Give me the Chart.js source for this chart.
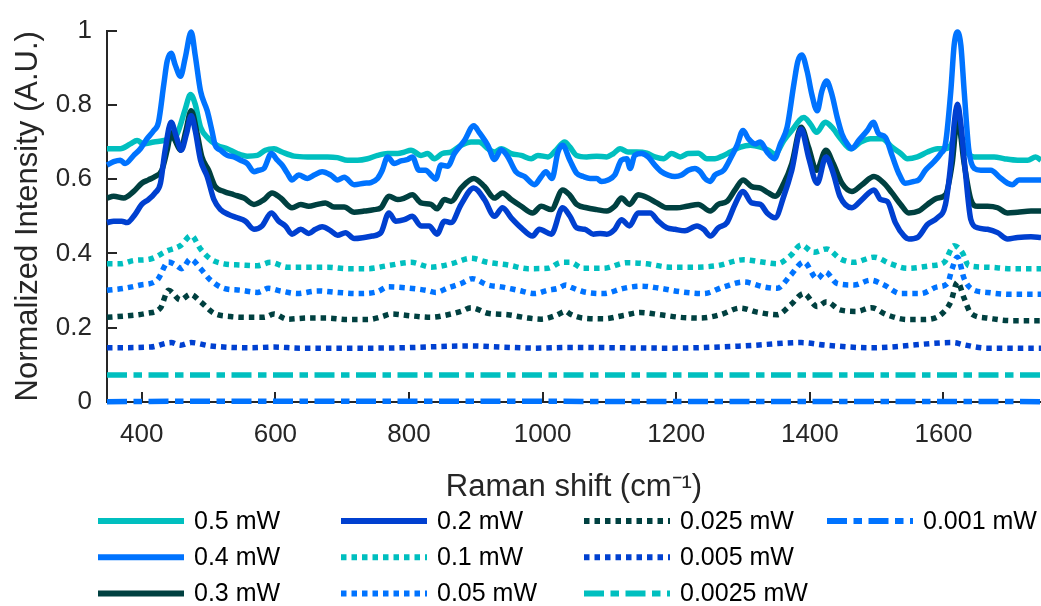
<!DOCTYPE html>
<html>
<head>
<meta charset="utf-8">
<title>Raman spectra vs laser power</title>
<script src="https://cdn.jsdelivr.net/npm/chart.js@4.4.1/dist/chart.umd.min.js"></script>
<style>
    html, body { margin: 0; padding: 0; background: #fff; }
    #wrap { width: 1041px; height: 606px; }
</style>
</head>
<body>
<div id="wrap"><canvas id="ramanChart" width="1041" height="606"></canvas></div>
<script>
// Laser powers (legend labels), in plotting order
const powers = ['0.5 mW', '0.4 mW', '0.3 mW', '0.2 mW', '0.1 mW', '0.05 mW', '0.025 mW', '0.005 mW', '0.0025 mW', '0.001 mW'];

// Axis ticks
const xTicks = [400, 600, 800, 1000, 1200, 1400, 1600];
const yTicks = [0, 0.2, 0.4, 0.6, 0.8, 1];

// Spectra: [Raman shift (cm-1), normalized intensity]
const mw05 = [[348,.682],[358,.682],[368,.682],[383,.695],[393,.704],[403,.695],[418,.700],[433,.704],[443,.709],[453,.722],[465,.788],[473,.828],[480,.802],[488,.740],[500,.709],[513,.691],[528,.682],[543,.669],[558,.662],[573,.664],[585,.678],[598,.682],[610,.673],[628,.662],[648,.660],[678,.660],[693,.658],[708,.651],[723,.651],[738,.655],[753,.664],[768,.669],[783,.669],[793,.673],[803,.678],[818,.664],[828,.669],[838,.655],[850,.669],[863,.673],[878,.691],[893,.700],[905,.700],[918,.682],[928,.673],[938,.682],[953,.669],[968,.664],[983,.655],[993,.664],[1008,.660],[1020,.678],[1033,.700],[1041,.686],[1051,.664],[1066,.660],[1081,.662],[1096,.660],[1106,.669],[1116,.682],[1128,.673],[1141,.673],[1156,.670],[1168,.660],[1181,.655],[1193,.669],[1206,.660],[1218,.669],[1233,.670],[1246,.655],[1258,.655],[1271,.664],[1281,.673],[1296,.686],[1311,.691],[1326,.686],[1338,.678],[1348,.668],[1361,.704],[1373,.731],[1391,.766],[1401,.748],[1410,.726],[1423,.753],[1433,.740],[1446,.709],[1461,.682],[1476,.700],[1491,.709],[1508,.709],[1523,.686],[1536,.669],[1546,.655],[1561,.660],[1576,.673],[1591,.682],[1601,.682],[1611,.691],[1621,.735],[1633,.678],[1646,.660],[1661,.660],[1676,.660],[1691,.655],[1711,.651],[1726,.651],[1738,.660],[1746,.651]];
const mw04 = [[348,.638],[358,.647],[368,.651],[375,.642],[388,.664],[398,.682],[408,.709],[418,.731],[425,.753],[433,.855],[438,.917],[444,.939],[450,.908],[458,.877],[465,.926],[474,.996],[480,.934],[488,.837],[498,.784],[505,.731],[510,.691],[518,.678],[528,.664],[538,.660],[548,.651],[558,.642],[568,.620],[575,.624],[583,.629],[594,.669],[603,.651],[610,.638],[618,.616],[625,.598],[635,.611],[648,.602],[658,.611],[670,.620],[683,.611],[693,.598],[703,.605],[718,.585],[733,.589],[743,.591],[753,.602],[760,.624],[768,.660],[778,.642],[788,.649],[798,.653],[805,.660],[815,.624],[825,.624],[833,.611],[840,.600],[848,.638],[858,.635],[868,.669],[883,.704],[897,.744],[905,.726],[918,.691],[928,.653],[938,.679],[948,.660],[960,.620],[973,.607],[988,.585],[998,.607],[1005,.620],[1014,.602],[1023,.673],[1030,.691],[1041,.650],[1051,.616],[1061,.607],[1071,.602],[1081,.602],[1088,.594],[1098,.598],[1108,.611],[1118,.651],[1126,.655],[1131,.629],[1138,.664],[1148,.669],[1158,.660],[1168,.638],[1178,.620],[1188,.611],[1198,.607],[1208,.611],[1218,.624],[1228,.629],[1236,.620],[1243,.602],[1251,.594],[1258,.611],[1271,.624],[1281,.655],[1291,.691],[1300,.731],[1308,.709],[1318,.695],[1326,.700],[1336,.673],[1347,.655],[1356,.695],[1366,.740],[1376,.855],[1382,.917],[1388,.934],[1396,.890],[1403,.828],[1411,.784],[1418,.837],[1425,.864],[1433,.828],[1441,.766],[1448,.722],[1456,.695],[1463,.682],[1473,.704],[1486,.731],[1495,.753],[1503,.722],[1513,.713],[1523,.664],[1533,.616],[1543,.589],[1556,.594],[1563,.598],[1573,.624],[1583,.642],[1596,.669],[1603,.695],[1611,.837],[1616,.961],[1621,.996],[1626,.961],[1631,.837],[1638,.678],[1646,.629],[1656,.624],[1671,.624],[1683,.607],[1696,.589],[1703,.585],[1713,.598],[1731,.598],[1746,.598]];
const mw03 = [[348,.549],[358,.554],[373,.549],[388,.567],[400,.589],[410,.598],[420,.607],[430,.624],[438,.678],[444,.725],[451,.700],[458,.678],[466,.730],[474,.784],[483,.722],[490,.660],[500,.624],[510,.580],[523,.567],[538,.558],[553,.549],[568,.532],[583,.545],[595,.563],[608,.549],[625,.523],[638,.532],[650,.527],[663,.532],[675,.536],[688,.525],[703,.525],[718,.511],[733,.514],[748,.518],[758,.523],[770,.554],[783,.545],[793,.549],[805,.558],[818,.536],[833,.532],[842,.520],[853,.545],[863,.540],[878,.576],[897,.602],[913,.580],[928,.549],[940,.563],[953,.545],[968,.527],[985,.509],[998,.527],[1013,.518],[1030,.571],[1041,.556],[1051,.532],[1066,.523],[1081,.518],[1096,.514],[1108,.527],[1118,.549],[1130,.532],[1143,.558],[1158,.549],[1171,.536],[1186,.523],[1201,.523],[1216,.527],[1233,.532],[1251,.514],[1263,.532],[1276,.540],[1288,.571],[1300,.598],[1313,.580],[1326,.576],[1338,.563],[1348,.554],[1361,.589],[1373,.642],[1387,.740],[1398,.686],[1410,.624],[1424,.678],[1435,.642],[1448,.589],[1463,.567],[1478,.585],[1496,.607],[1511,.589],[1523,.563],[1536,.532],[1548,.509],[1563,.514],[1576,.532],[1591,.549],[1603,.558],[1613,.642],[1621,.765],[1631,.642],[1641,.545],[1651,.527],[1666,.527],[1681,.523],[1696,.509],[1711,.511],[1731,.514],[1746,.514]];
const mw02 = [[348,.483],[358,.487],[370,.487],[378,.483],[390,.505],[400,.532],[410,.545],[420,.563],[428,.589],[435,.678],[444,.753],[452,.713],[459,.678],[467,.722],[474,.771],[480,.731],[488,.651],[498,.607],[508,.545],[518,.518],[530,.505],[543,.496],[555,.487],[568,.465],[580,.474],[594,.509],[605,.487],[615,.474],[625,.452],[638,.465],[650,.454],[660,.465],[670,.472],[683,.461],[693,.449],[705,.456],[718,.440],[733,.443],[745,.447],[758,.456],[770,.509],[780,.487],[793,.491],[805,.500],[818,.474],[830,.474],[842,.452],[853,.487],[863,.483],[878,.532],[897,.576],[913,.545],[928,.500],[940,.523],[953,.496],[968,.469],[985,.447],[995,.465],[1013,.452],[1030,.523],[1041,.500],[1051,.469],[1063,.465],[1076,.452],[1086,.454],[1096,.452],[1108,.465],[1118,.491],[1130,.474],[1143,.509],[1161,.509],[1173,.487],[1186,.469],[1198,.465],[1213,.461],[1231,.474],[1241,.465],[1251,.447],[1263,.469],[1276,.483],[1288,.532],[1300,.567],[1313,.536],[1326,.532],[1336,.509],[1348,.496],[1361,.554],[1373,.624],[1387,.735],[1398,.660],[1411,.589],[1424,.660],[1435,.616],[1445,.554],[1463,.523],[1478,.545],[1496,.571],[1506,.545],[1516,.540],[1528,.483],[1541,.447],[1548,.439],[1561,.443],[1576,.478],[1591,.496],[1603,.532],[1611,.642],[1616,.748],[1621,.802],[1626,.748],[1633,.616],[1641,.491],[1651,.469],[1666,.465],[1681,.456],[1696,.439],[1711,.443],[1731,.445],[1746,.443]];
const mw01 = [[348,.372],[368,.372],[388,.381],[413,.385],[438,.407],[458,.421],[474,.448],[488,.412],[503,.385],[523,.372],[548,.369],[573,.367],[593,.376],[618,.363],[648,.363],[678,.363],[708,.359],[738,.359],[768,.367],[803,.376],[833,.363],[863,.372],[893,.387],[918,.376],[948,.369],[978,.359],[1008,.360],[1028,.376],[1041,.376],[1061,.360],[1091,.360],[1126,.375],[1156,.372],[1191,.363],[1226,.363],[1261,.367],[1301,.383],[1331,.376],[1351,.372],[1371,.394],[1387,.423],[1406,.403],[1425,.412],[1446,.385],[1466,.376],[1496,.390],[1521,.372],[1546,.360],[1581,.367],[1601,.376],[1616,.421],[1628,.403],[1638,.367],[1666,.363],[1701,.359],[1746,.359]];
const mw005 = [[348,.301],[373,.306],[398,.315],[423,.328],[440,.377],[450,.370],[460,.359],[473,.385],[488,.359],[503,.328],[523,.306],[548,.301],[573,.295],[590,.306],[608,.299],[633,.292],[663,.299],[693,.295],[723,.292],[753,.297],[768,.310],[798,.307],[825,.301],[840,.295],[858,.307],[878,.319],[895,.332],[918,.315],[938,.310],[963,.301],[988,.292],[1008,.301],[1023,.306],[1035,.315],[1041,.310],[1061,.297],[1091,.292],[1121,.306],[1148,.312],[1176,.306],[1206,.297],[1241,.292],[1271,.310],[1301,.323],[1331,.310],[1351,.306],[1371,.341],[1391,.377],[1411,.332],[1423,.350],[1441,.319],[1466,.315],[1491,.328],[1511,.315],[1536,.292],[1566,.292],[1591,.310],[1606,.319],[1613,.359],[1621,.390],[1631,.332],[1641,.306],[1666,.295],[1701,.290],[1746,.290]];
const mw0025 = [[348,.228],[378,.232],[408,.239],[428,.253],[440,.301],[458,.275],[473,.290],[488,.270],[508,.239],[533,.230],[558,.228],[583,.228],[598,.237],[618,.223],[648,.226],[678,.226],[708,.222],[738,.222],[760,.230],[773,.237],[803,.232],[833,.228],[858,.235],[878,.244],[893,.254],[918,.239],[948,.235],[978,.226],[998,.223],[1020,.233],[1035,.244],[1041,.237],[1061,.226],[1091,.224],[1121,.233],[1146,.241],[1176,.235],[1206,.228],[1236,.226],[1266,.235],[1296,.253],[1321,.242],[1351,.235],[1371,.261],[1391,.292],[1411,.257],[1425,.270],[1445,.248],[1470,.244],[1492,.254],[1515,.235],[1546,.222],[1571,.222],[1596,.235],[1611,.270],[1621,.323],[1631,.279],[1641,.239],[1666,.226],[1701,.219],[1746,.219]];
const mw0005 = [[348,.146],[413,.148],[444,.160],[458,.153],[474,.160],[503,.151],[563,.146],[598,.148],[638,.145],[738,.145],[788,.146],[893,.151],[938,.148],[988,.145],[1041,.147],[1191,.145],[1301,.151],[1387,.160],[1424,.153],[1491,.146],[1616,.160],[1628,.155],[1666,.145],[1746,.145]];
const mw00025 = [[348,.073],[1050,.073],[1746,.073]];
const mw0001 = [[348,.001],[474,.002],[1746,.001]];

const spectra = [mw05, mw04, mw03, mw02, mw01, mw005, mw0025, mw0005, mw00025, mw0001];

const colors = ['#00BFBF', '#0073FF', '#004040', '#0040D0', '#00BFBF', '#0073FF', '#004040', '#0040D0', '#00BFBF', '#0073FF'];
const dotted = [5.5, 5];
const dashed = [20, 6.5, 8.5, 6.5];
const dashes = [[], [], [], [], dotted, dotted, dotted, dotted, dashed, dashed];

const axisColor = '#262626';
const fontFamily = "'Liberation Sans', Arial, sans-serif";

// MATLAB-style ticks pointing into the plot
const inwardTicks = {
    id: 'inwardTicks',
    beforeDatasetsDraw(chart) {
        const { ctx, chartArea, scales } = chart;
        ctx.save();
        ctx.strokeStyle = axisColor;
        ctx.lineWidth = 2;
        ctx.beginPath();
        xTicks.forEach(v => {
            const px = Math.round(scales.x.getPixelForValue(v));
            ctx.moveTo(px, chartArea.bottom);
            ctx.lineTo(px, chartArea.bottom - 10);
        });
        yTicks.forEach(v => {
            const py = Math.round(scales.y.getPixelForValue(v));
            ctx.moveTo(chartArea.left, py);
            ctx.lineTo(chartArea.left + 10, py);
        });
        ctx.stroke();
        ctx.restore();
    }
};

// Legend below the axes, 4 columns filled top to bottom
const columnLegend = {
    id: 'columnLegend',
    afterDraw(chart) {
        const ctx = chart.ctx;
        ctx.save();
        ctx.font = '25px ' + fontFamily;
        ctx.textBaseline = 'middle';
        ctx.fillStyle = '#000';
        chart.data.datasets.forEach((ds, i) => {
            const col = Math.floor(i / 3);
            const row = i % 3;
            const x0 = 98 + col * 243;
            const y0 = 521 + row * 36.2;
            ctx.beginPath();
            ctx.strokeStyle = ds.borderColor;
            ctx.lineWidth = 6;
            ctx.setLineDash(ds.borderDash);
            ctx.moveTo(x0, y0);
            ctx.lineTo(x0 + 86, y0);
            ctx.stroke();
            ctx.setLineDash([]);
            ctx.fillText(ds.label, x0 + 96, y0 + 1);
        });
        ctx.restore();
    }
};

const datasets = powers.map((label, i) => ({
    label: label,
    data: spectra[i].map(p => ({ x: p[0], y: p[1] })),
    borderColor: colors[i],
    borderDash: dashes[i],
    borderWidth: 5.5,
    borderJoinStyle: 'round',
    cubicInterpolationMode: 'monotone',
    pointRadius: 0,
    fill: false,
    clip: false,
    order: powers.length - i
}));

const ctx = document.getElementById('ramanChart').getContext('2d');
const ramanChart = new Chart(ctx, {
    type: 'line',
    data: { datasets: datasets },
    plugins: [inwardTicks, columnLegend],
    options: {
        responsive: false,
        animation: false,
        devicePixelRatio: 1,
        layout: { padding: { top: 25, right: 0, left: 0, bottom: 0 } },
        plugins: {
            legend: { display: false },
            tooltip: { enabled: false }
        },
        scales: {
            x: {
                type: 'linear',
                min: 348,
                max: 1746,
                afterBuildTicks: scale => { scale.ticks = xTicks.map(v => ({ value: v })); },
                afterFit: scale => { scale.height = 204; },
                grid: { display: false, drawTicks: false },
                border: { display: true, color: axisColor, width: 2 },
                ticks: {
                    color: '#262626',
                    padding: 17,
                    maxRotation: 0,
                    font: { family: fontFamily, size: 26 },
                    callback: v => String(v)
                },
                title: {
                    display: true,
                    text: 'Raman shift (cm\u207B\u00B9)',
                    color: '#262626',
                    font: { family: fontFamily, size: 31 },
                    padding: { top: 0, bottom: 100 }
                }
            },
            y: {
                min: 0,
                max: 1,
                afterBuildTicks: scale => { scale.ticks = yTicks.map(v => ({ value: v })); },
                afterFit: scale => { scale.width = 107; },
                grid: { display: false, drawTicks: false },
                border: { display: true, color: axisColor, width: 2 },
                ticks: {
                    color: '#262626',
                    padding: 15,
                    font: { family: fontFamily, size: 26 },
                    callback: v => String(v)
                },
                title: {
                    display: true,
                    text: 'Normalized Intensity (A.U.)',
                    color: '#262626',
                    font: { family: fontFamily, size: 31 },
                    padding: { top: 10, bottom: 0 }
                }
            }
        }
    }
});
</script>
</body>
</html>
